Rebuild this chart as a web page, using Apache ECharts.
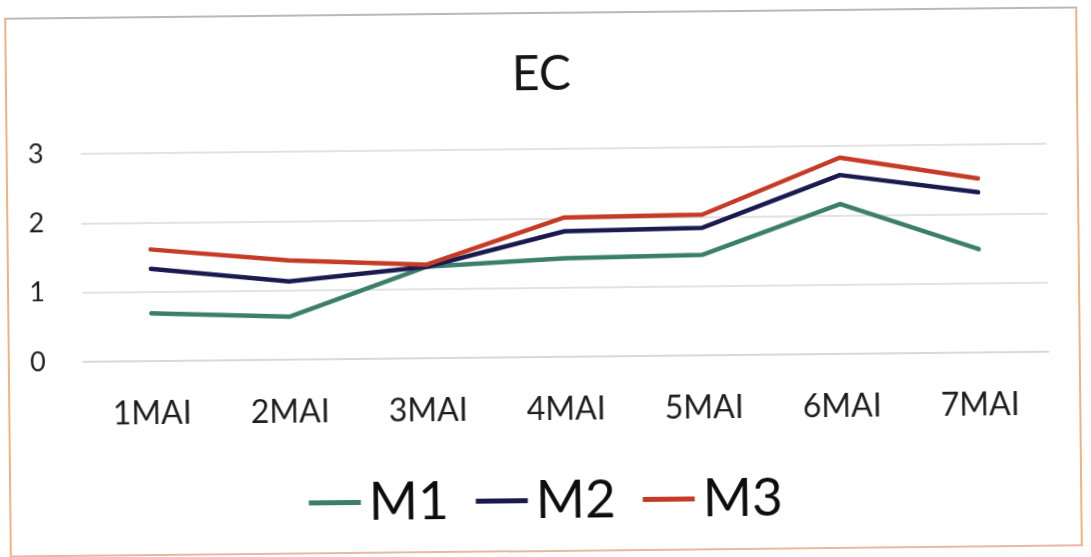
<!DOCTYPE html>
<html>
<head>
<meta charset="utf-8">
<script src="https://cdn.jsdelivr.net/npm/echarts@6/dist/echarts.min.js"></script>
<style>
  html, body { margin: 0; padding: 0; background: #ffffff; width: 1091px; height: 557px; overflow: hidden; }
  #frame {
    position: absolute; left: 7px; top: 12px; width: 1069px; height: 536px;
    border-style: solid; border-width: 2px;
    border-color: #b9b9b9 #f2b27e #e9b7a6 #f2b27e;
    transform: rotate(-0.6deg); transform-origin: 50% 50%;
    background: #ffffff;
  }
  #chart { width: 1069px; height: 536px; }
</style>
</head>
<body>
<div id="frame"><div id="chart"></div></div>
<script>
// EC readings per day
const categories = ['1MAI', '2MAI', '3MAI', '4MAI', '5MAI', '6MAI', '7MAI'];
const m1 = [0.69, 0.62, 1.32, 1.42, 1.45, 2.16, 1.49];
const m2 = [1.33, 1.13, 1.32, 1.81, 1.84, 2.58, 2.31];
const m3 = [1.61, 1.43, 1.35, 2.01, 2.03, 2.83, 2.51];
const seriesNames = ['M1', 'M2', 'M3'];
const seriesColors = ['#3b7f6b', '#1b1a50', '#c53b26'];
const yTicks = { min: 0, max: 3, interval: 1 };

const font = 'Lato, "Open Sans", sans-serif';
const chart = echarts.init(document.getElementById('chart'), null, { renderer: 'canvas' });

const values = [m1, m2, m3];
chart.setOption({
  animation: false,
  title: {
    text: 'EC', left: 'center', top: 32,
    textStyle: { fontFamily: font, fontSize: 48, fontWeight: 'normal', color: '#151515' }
  },
  legend: {
    bottom: 18, left: 'center',
    icon: 'rect', itemWidth: 52, itemHeight: 5, itemGap: 27,
    textStyle: { fontFamily: font, fontSize: 53, color: '#0d0d0d', padding: [0, 0, 0, 3] },
    data: seriesNames
  },
  grid: { left: 73, right: 30, top: 135, bottom: 193, containLabel: false },
  xAxis: {
    type: 'category', data: categories, boundaryGap: true,
    axisLine: { show: true, lineStyle: { color: '#d6d6d6', width: 1.5 } },
    axisTick: { show: false },
    axisLabel: { fontFamily: font, fontSize: 32, color: '#1e1e1e', margin: 37 }
  },
  yAxis: {
    type: 'value', min: yTicks.min, max: yTicks.max, interval: yTicks.interval,
    axisLine: { show: false }, axisTick: { show: false },
    axisLabel: { fontFamily: font, fontSize: 27, color: '#1e1e1e', margin: 37 },
    splitLine: { lineStyle: { color: '#d9d9d9', width: 1.5 } }
  },
  series: seriesNames.map((name, i) => ({
    name, type: 'line', data: values[i],
    color: seriesColors[i],
    lineStyle: { width: 4.5, color: seriesColors[i], cap: 'round' },
    showSymbol: false, symbol: 'none', smooth: false
  }))
});
</script>
</body>
</html>
